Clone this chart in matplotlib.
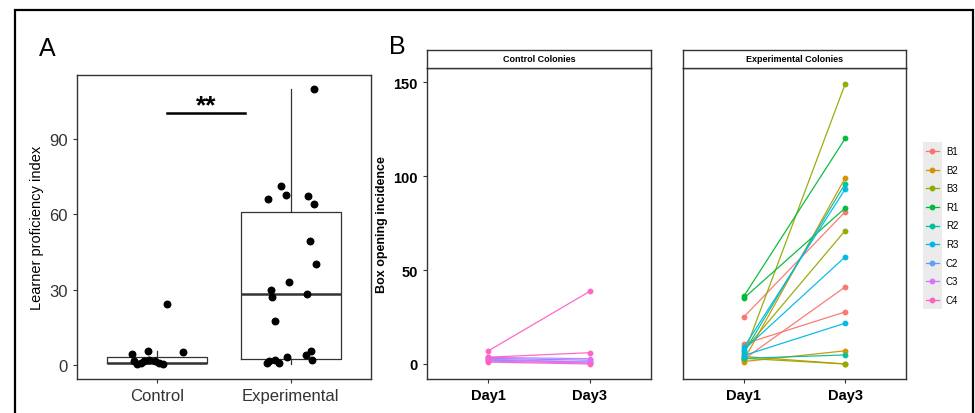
import matplotlib
matplotlib.use("Agg")
import matplotlib.pyplot as plt
from matplotlib.patches import Rectangle

plt.rcParams['font.family'] = ['Liberation Sans', 'DejaVu Sans']

# ---- panel A data: learner proficiency index ----
groups = ["Control", "Experimental"]
control_vals = [4.5, 5.5, 5.3, 1.5, 0.3, 0.8, 1.6, 2.0, 1.7, 0.8, 0.5, 24.2]
control_jit = [-0.19, -0.07, 0.19, -0.17, -0.15, -0.12, -0.095, -0.06, -0.02, 0.01, 0.04, 0.07]
exp_vals = [110, 71.2, 66.0, 67.6, 67.3, 64.2, 49.3, 40.3, 33.1, 30.0, 27.2, 28.5,
            17.4, 5.8, 4.2, 3.2, 2.1, 1.9, 1.5, 0.8, 0.8]
exp_jit = [0.17, -0.07, -0.17, -0.035, 0.13, 0.17, 0.14, 0.19, -0.01, -0.15, -0.14, 0.12,
           -0.12, 0.15, 0.11, -0.03, -0.12, 0.16, -0.16, -0.09, -0.18]
# box stats: whislo, q1, median, q3, whishi
control_box = [0.0, 0.8, 1.0, 3.4, 5.7]
exp_box = [0.3, 2.4, 28.3, 60.8, 110]
sig_y = 100.3
sig_x = [1.07, 1.66]

# ---- panel B data: box opening incidence, Day1 -> Day3 ----
days = ["Day1", "Day3"]
colonies = ["B1", "B2", "B3", "R1", "R2", "R3", "C2", "C3", "C4"]
colours = ["#F8766D", "#D39200", "#93AA00", "#00BA38", "#00C19F",
           "#00B9E3", "#619CFF", "#DB72FB", "#FF61C3"]
exp_day1 = {"B1": [25, 10.6, 2.5], "B2": [2.0, 1.3, 4.0], "B3": [5.0, 7.0, 3.0],
            "R1": [36, 35], "R2": [6.0, 3.0], "R3": [8.8, 7.5, 4.5]}
exp_day3 = {"B1": [81, 27.7, 41], "B2": [99, 7.0, 0.0], "B3": [149, 71, 0.0],
            "R1": [120, 83], "R2": [96, 4.8], "R3": [93, 57, 21.7]}
ctrl_day1 = {"C2": [3.0, 2.0], "C3": [2.5, 1.5, 3.5], "C4": [6.9, 3.6, 1.0]}
ctrl_day3 = {"C2": [2.0, 1.0], "C3": [1.0, 0.5, 2.8], "C4": [38.7, 6.0, 0.0]}

W, H = 975, 414
fig = plt.figure(figsize=(W / 100, H / 100), dpi=100)


def rect(l, t, r, b):
    return [l / W, 1 - b / H, (r - l) / W, (b - t) / H]


# outer frame
fig.patches.append(Rectangle((15 / W, -0.05), (973 - 15) / W, 1.05 - 11 / H,
                             transform=fig.transFigure, fill=False,
                             edgecolor="black", linewidth=1.6))

# ================= panel A =================
axA = fig.add_axes(rect(77, 76, 371, 380))
stats = []
for name, b in zip(groups, [control_box, exp_box]):
    stats.append(dict(label=name, whislo=b[0], q1=b[1], med=b[2], q3=b[3], whishi=b[4]))
axA.bxp(stats, positions=[1, 2], widths=0.75, showfliers=False, showcaps=False,
        boxprops=dict(color="#333333", linewidth=0.9),
        whiskerprops=dict(color="#333333", linewidth=0.9),
        medianprops=dict(color="#333333", linewidth=1.8))
axA.scatter([1 + j for j in control_jit], control_vals, s=22, color="black", zorder=3)
axA.scatter([2 + j for j in exp_jit], exp_vals, s=22, color="black", zorder=3)
axA.plot(sig_x, [sig_y, sig_y], color="black", linewidth=1.8)
axA.text(sum(sig_x) / 2, sig_y + 0.3, "**", ha="center", va="baseline",
         fontsize=19, fontweight="bold")
axA.set_xlim(0.4, 2.6)
axA.set_ylim(-5.5, 115.5)
axA.set_yticks([0, 30, 60, 90])
axA.set_xticks([1, 2])
axA.set_xticklabels(groups)
axA.tick_params(labelsize=12, labelcolor="#333333", color="#333333", length=3)
axA.set_ylabel("Learner proficiency index", fontsize=10.5)
for sp in axA.spines.values():
    sp.set_color("#333333")
    sp.set_linewidth(1.0)

fig.text(47 / W, 1 - 49 / H, "A", fontsize=18, ha="center", va="center")
fig.text(397 / W, 1 - 47 / H, "B", fontsize=18, ha="center", va="center")

# ================= panel B =================
axC = fig.add_axes(rect(427, 69, 651, 380))
axE = fig.add_axes(rect(683, 69, 906, 380))
col_of = dict(zip(colonies, colours))


def draw_lines(ax, d1, d3):
    for name in d1:
        for a, b in zip(d1[name], d3[name]):
            ax.plot([1, 2], [a, b], color=col_of[name], linewidth=0.9,
                    marker="o", markersize=3.2, alpha=0.95)


draw_lines(axC, ctrl_day1, ctrl_day3)
draw_lines(axE, exp_day1, exp_day3)

for ax, title in [(axC, "Control Colonies"), (axE, "Experimental Colonies")]:
    ax.set_xlim(0.4, 2.6)
    ax.set_ylim(-8, 157.5)
    ax.set_xticks([1, 2])
    ax.set_xticklabels(days, fontweight="bold")
    ax.set_yticks([0, 50, 100, 150])
    ax.tick_params(labelsize=10.5, color="#333333", length=3)
    for sp in ax.spines.values():
        sp.set_color("#333333")
        sp.set_linewidth(1.0)
    pos = ax.get_position()
    sax = fig.add_axes([pos.x0, 1 - 69 / H, pos.width, 18 / H])
    sax.set_xticks([])
    sax.set_yticks([])
    for sp in sax.spines.values():
        sp.set_color("#333333")
        sp.set_linewidth(1.0)
    sax.text(0.5, 0.5, title, ha="center", va="center", fontsize=6.5,
             fontweight="bold", transform=sax.transAxes)

axC.set_yticklabels(["0", "50", "100", "150"], fontweight="bold")
axC.set_ylabel("Box opening incidence", fontsize=9, fontweight="bold")
axE.tick_params(axis="y", left=False, labelleft=False)

# legend
axL = fig.add_axes(rect(923, 143, 965, 310))
axL.set_xlim(0, 42)
axL.set_ylim(len(colonies) - 0.5, -0.5)
axL.axis("off")
axL.add_patch(Rectangle((0, -0.5), 18.5, len(colonies), facecolor="#EBEBEB",
                        edgecolor="none"))
for i, (name, c) in enumerate(zip(colonies, colours)):
    axL.plot([3, 15.5], [i, i], color=c, linewidth=0.9)
    axL.plot([9.25], [i], color=c, marker="o", markersize=3.2)
    axL.text(23, i, name, va="center", ha="left", fontsize=7)

fig.savefig("out.png", dpi=100)
